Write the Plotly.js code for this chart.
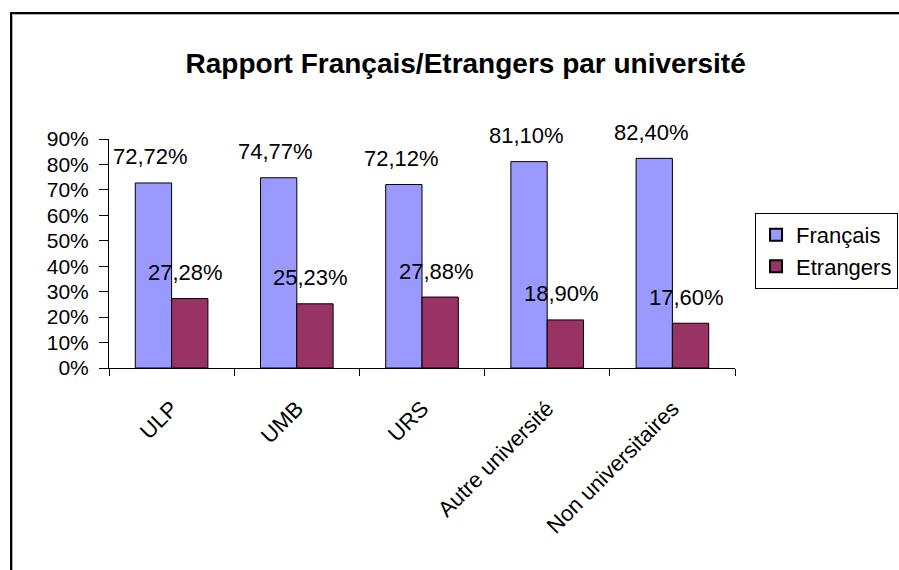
<!DOCTYPE html>
<html>
<head>
<meta charset="utf-8">
<script src="https://cdn.plot.ly/plotly-3.0.1.min.js"></script>
<style>
  html, body { margin:0; padding:0; background:#fff; overflow:hidden; }
  #wrap { position:relative; width:899px; height:570px; }
  #chart { position:absolute; left:0; top:0; width:899px; height:570px; }
  #frame { position:absolute; left:10px; top:12px; width:2000px; height:2000px;
           border:2px solid #000; box-shadow: inset 1px 1px 0 #b0b0b0; pointer-events:none; }
</style>
</head>
<body>
<div id="wrap">
  <div id="chart"></div>
  <div id="frame"></div>
</div>
<script>
const categories = ["ULP", "UMB", "URS", "Autre université", "Non universitaires"];
const francais = [72.72, 74.77, 72.12, 81.10, 82.40];
const etrangers = [27.28, 25.23, 27.88, 18.90, 17.60];
const seriesNames = ["Français", "Etrangers"];
const yTicks = [0, 10, 20, 30, 40, 50, 60, 70, 80, 90];

const FONT = "Liberation Sans, Arial, sans-serif";
const fmt = v => v.toFixed(2).replace('.', ',') + '%';

const traces = [
  { type: 'bar', name: seriesNames[0], x: categories, y: francais,
    marker: { color: '#9999FF', line: { color: '#000', width: 1 } }, hoverinfo: 'none' },
  { type: 'bar', name: seriesNames[1], x: categories, y: etrangers,
    marker: { color: '#993366', line: { color: '#000', width: 1 } }, hoverinfo: 'none' }
];

const annotations = [];
categories.forEach((c, i) => {
  annotations.push({ x: c, y: francais[i], xref: 'x', yref: 'y', text: fmt(francais[i]),
    showarrow: false, xshift: -21, yshift: 26, yanchor: 'middle',
    font: { family: FONT, size: 22, color: '#000' } });
  annotations.push({ x: c, y: etrangers[i], xref: 'x', yref: 'y', text: fmt(etrangers[i]),
    showarrow: false, xshift: 14, yshift: 26, yanchor: 'middle',
    font: { family: FONT, size: 22, color: '#000' } });
});

const layout = {
  width: 899, height: 570,
  paper_bgcolor: 'rgba(0,0,0,0)', plot_bgcolor: 'rgba(0,0,0,0)',
  margin: { l: 109, r: 164, t: 139, b: 202, pad: 0, autoexpand: false },
  font: { family: FONT, color: '#000' },
  title: { text: '<b>Rapport Français/Etrangers par université</b>',
           x: 0.518, xref: 'container', xanchor: 'center',
           y: 1 - 63/570, yref: 'container', yanchor: 'middle',
           font: { family: FONT, size: 28, color: '#000' } },
  barmode: 'group', bargap: 0.42, bargroupgap: 0,
  showlegend: true,
  legend: { x: 1.032, xanchor: 'left', y: 0.677, yanchor: 'top',
            bgcolor: '#fff', bordercolor: '#000', borderwidth: 1,
            font: { family: FONT, size: 22, color: '#000' },
            itemsizing: 'constant', itemwidth: 30 },
  xaxis: { type: 'category', showline: true, linecolor: '#000', linewidth: 1,
           ticks: 'outside', tickson: 'boundaries', ticklen: 7, tickcolor: '#000',
           tickangle: -45, ticklabelstandoff: 18, automargin: false,
           tickfont: { family: FONT, size: 22, color: '#000' },
           showgrid: false, zeroline: false, fixedrange: true },
  yaxis: { range: [0, 90], tickvals: yTicks, ticktext: yTicks.map(v => v + '%'),
           showline: true, linecolor: '#000', linewidth: 1, automargin: false,
           ticks: 'outside', ticklen: 9, tickcolor: '#000', ticklabelstandoff: 6,
           tickfont: { family: FONT, size: 21, color: '#000' },
           showgrid: false, zeroline: false, fixedrange: true },
  annotations: annotations
};

Plotly.newPlot('chart', traces, layout, { displayModeBar: false, staticPlot: true });
</script>
</body>
</html>
